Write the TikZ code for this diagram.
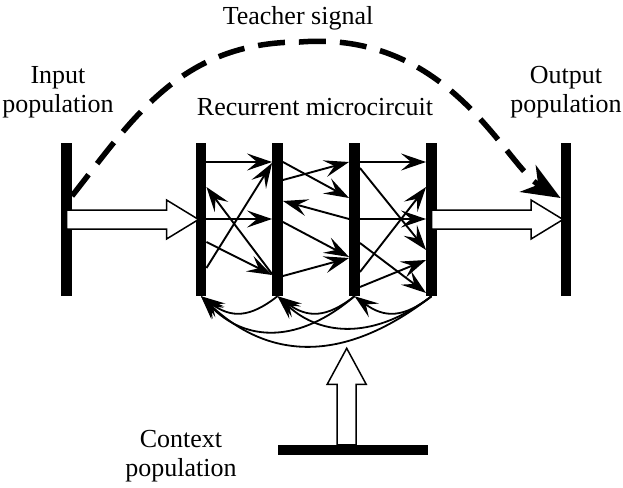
\documentclass[tikz,border=0pt]{standalone}
\usepackage{fontspec}
\setmainfont{Liberation Serif}
\usetikzlibrary{arrows.meta,calc}
\begin{document}
\begin{tikzpicture}[x=1pt,y=-1pt,
  bar/.style={fill=black, inner sep=0pt, minimum width=10.5pt, minimum height=153pt},
  syn/.style={line width=1.9pt, -{Stealth[length=25pt,width=17pt,inset=10pt]}},
  loopsyn/.style={line width=1.8pt, -{Stealth[length=24pt,width=17pt,inset=10pt]}},
  fat/.style={draw=black, fill=white, line width=1.5pt, line join=miter},
  teach/.style={line width=5.5pt, dash pattern=on 27pt off 14pt,
                -{Stealth[length=38pt,width=31pt,inset=12pt]}},
  lbl/.style={font=\fontsize{26pt}{29pt}\selectfont, align=center, inner sep=0pt}]

\useasboundingbox (0,0) rectangle (623,487);

% populations drawn as thick bars
\node[bar] (inb)  at (66.5,219.5) {};
\node[bar] (mc1)  at (201,219.5) {};
\node[bar] (mc2)  at (277.5,219.5) {};
\node[bar] (mc3)  at (354.5,219.5) {};
\node[bar] (mc4)  at (431.5,219.5) {};
\node[bar] (outb) at (566,219.5) {};
\node[bar, minimum width=150.6pt, minimum height=10pt] (ctx) at (353,450) {};

% labels
\node[lbl, anchor=base] (tlab)   at (298,25)  {Teacher signal};
\node[lbl] (inlab)  at (58,92)   {Input\\population};
\node[lbl] (outlab) at (566,92)  {Output\\population};
\node[lbl, anchor=base] (reclab) at (315,115) {Recurrent microcircuit};
\node[lbl] (ctxlab) at (181,456) {Context\\population};

% hollow input arrow
\coordinate (inT) at (inb.center);
\coordinate (inP) at ($(mc1.west)+(3,0)$);
\draw[fat] ($(inT)+(0,-9.5)$) -- ($(inP)+(-32,-9.5)$) -- ($(inP)+(-32,-19.5)$)
  -- (inP) -- ($(inP)+(-32,19.5)$) -- ($(inP)+(-32,9.5)$) -- ($(inT)+(0,9.5)$) -- cycle;

% hollow output arrow
\coordinate (outT) at (mc4.center);
\coordinate (outP) at ($(outb.west)+(2.5,0)$);
\draw[fat] ($(outT)+(0,-9.5)$) -- ($(outP)+(-32,-9.5)$) -- ($(outP)+(-32,-19.5)$)
  -- (outP) -- ($(outP)+(-32,19.5)$) -- ($(outP)+(-32,9.5)$) -- ($(outT)+(0,9.5)$) -- cycle;

% hollow context arrow
\coordinate (ctxT) at ($(ctx.north)+(-6.3,0)$);
\coordinate (ctxP) at (346.7,348.3);
\draw[fat] ($(ctxT)+(-9.5,0)$) -- ($(ctxP)+(-9.5,36)$) -- ($(ctxP)+(-19.5,36)$)
  -- (ctxP) -- ($(ctxP)+(19.5,36)$) -- ($(ctxP)+(9.5,36)$) -- ($(ctxT)+(9.5,0)$) -- cycle;

% recurrent connections: first to second layer
\draw[syn] (mc1.east |- 0,162) -- (mc2.west |- 0,162);
\draw[syn] (mc1.east |- 0,219) -- (mc2.west |- 0,219);
\draw[syn] (mc1.east |- 0,242) -- (mc2.west |- 0,275);
\draw[syn] (mc1.east |- 0,268) -- (mc2.west |- 0,163);
\draw[syn] (mc2.west |- 0,274) -- (mc1.east |- 0,187);

% second to third layer
\draw[syn] (mc2.east |- 0,180) -- (mc3.west |- 0,162);
\draw[syn] (mc2.east |- 0,162) -- (mc3.west |- 0,198);
\draw[syn] (mc3.west |- 0,219) -- (mc2.east |- 0,201);
\draw[syn] (mc2.east |- 0,222) -- (mc3.west |- 0,257);
\draw[syn] (mc2.east |- 0,276) -- (mc3.west |- 0,258);

% third to fourth layer
\draw[syn] (mc3.east |- 0,162) -- (mc4.west |- 0,162);
\draw[syn] (mc3.east |- 0,219) -- (mc4.west |- 0,219);
\draw[syn] (mc3.east |- 0,168) -- (mc4.west |- 0,250);
\draw[syn] (mc3.east |- 0,272) -- (mc4.west |- 0,187);
\draw[syn] (mc3.east |- 0,243) -- (mc4.west |- 0,293);
\draw[syn] (mc3.east |- 0,287) -- (mc4.west |- 0,260);

% feedback loops under the layers
\draw[loopsyn] (mc2.south) .. controls +(-28,22) and +(30,22) .. (mc1.south);
\draw[loopsyn] (mc3.south) .. controls +(-28,22) and +(30,22) .. (mc2.south);
\draw[loopsyn] (mc4.south) .. controls +(-28,22) and +(30,22) .. (mc3.south);
\draw[loopsyn] (mc3.south) .. controls +(-55,47) and +(45,47) .. (mc1.south);
\draw[loopsyn] (mc4.south) .. controls +(-55,42) and +(45,42) .. (mc2.south);
\draw[loopsyn] (mc4.south) .. controls +(-85,66) and +(70,66) .. (mc1.south);

% teacher signal
\coordinate (peak) at (300,42);
\draw[teach] (inb.east |- 0,196) .. controls (132,120) and (180,42) .. (peak)
  .. controls (450,30) and (505,165) .. (outb.west |- 0,198);
\end{tikzpicture}
\end{document}
